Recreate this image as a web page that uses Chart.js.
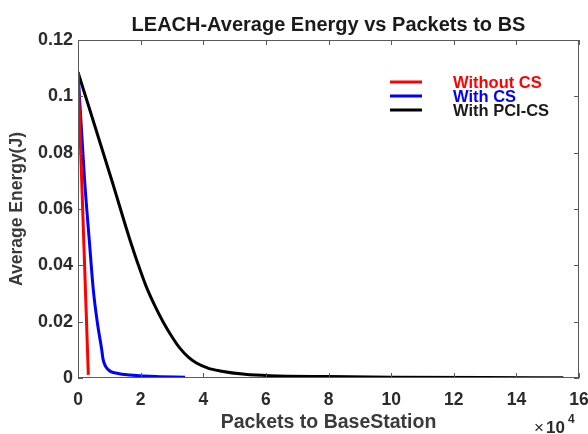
<!DOCTYPE html>
<html>
<head>
<meta charset="utf-8">
<script src="https://cdn.jsdelivr.net/npm/chart.js@4/dist/chart.umd.min.js"></script>
<style>
  html, body { margin: 0; padding: 0; background: #fff; }
  #wrap { width: 588px; height: 434px; }
</style>
</head>
<body>
<div id="wrap"><canvas id="chart" width="588" height="434"></canvas></div>
<script>
// ── data ──
const seriesNames = ['Without CS', 'With CS', 'With PCI-CS'];
const seriesColors = ['#ff0000', '#0000ff', '#000000'];

const redX = [0, 3300];
const redY = [0.1086, 0.0011];

const blueX = [0, 2100, 3600, 4900, 6200, 7600, 8000, 9600, 12800, 16600, 25000, 34200];
const blueY = [0.1086, 0.0703, 0.049, 0.0312, 0.0195, 0.0099, 0.0067, 0.003, 0.0016, 0.0011, 0.0005, 0.0003];

const blackX = [0, 10760, 16600, 19150, 21700, 24600, 27150, 29700, 32600, 35150, 37700, 41500, 45350, 53300, 61300, 80000, 100000, 130000, 155000];
const blackY = [0.1086, 0.0703, 0.049, 0.0405, 0.0327, 0.0255, 0.02, 0.0152, 0.0105, 0.0075, 0.0054, 0.0035, 0.0025, 0.0013, 0.0008, 0.0005, 0.0003, 0.00015, 0.0001];

const xMax = 160000;
const xStep = 20000;
const yMax = 0.12;
const yStep = 0.02;

const titleText = 'LEACH-Average Energy vs Packets to BS';
const xLabel = 'Packets to BaseStation';
const yLabel = 'Average Energy(J)';

const FONT = '"Liberation Sans", Arial, Helvetica, sans-serif';
const TEXT = '#2b2b2b';

const toPoints = (xs, ys) => xs.map((x, i) => ({ x, y: ys[i] }));

// title, legend, box with inward ticks, exponent
const decorations = {
  id: 'decorations',
  afterDraw(chart) {
    const { ctx, chartArea: a, scales } = chart;
    ctx.save();

    // axes box
    ctx.strokeStyle = '#5a5a5a';
    ctx.lineWidth = 1;
    ctx.strokeRect(a.left + 0.5, a.top + 0.5, a.right - a.left - 1, a.bottom - a.top - 1);

    // inward ticks on all four sides
    ctx.beginPath();
    scales.x.ticks.forEach(t => {
      const px = Math.round(scales.x.getPixelForValue(t.value)) + 0.5;
      ctx.moveTo(px, a.bottom); ctx.lineTo(px, a.bottom - 5);
      ctx.moveTo(px, a.top); ctx.lineTo(px, a.top + 5);
    });
    scales.y.ticks.forEach(t => {
      const py = Math.round(scales.y.getPixelForValue(t.value)) + 0.5;
      ctx.moveTo(a.left, py); ctx.lineTo(a.left + 5, py);
      ctx.moveTo(a.right, py); ctx.lineTo(a.right - 5, py);
    });
    ctx.stroke();

    // title centred over the plot
    ctx.fillStyle = '#1a1a1a';
    ctx.font = 'bold 20px ' + FONT;
    ctx.textAlign = 'center';
    ctx.textBaseline = 'middle';
    ctx.fillText(titleText, (a.left + a.right) / 2, 25);

    // legend
    ctx.textAlign = 'left';
    ctx.font = 'bold 16.5px ' + FONT;
    ctx.lineWidth = 3;
    seriesNames.forEach((name, i) => {
      const y = 82 + i * 14;
      ctx.strokeStyle = seriesColors[i];
      ctx.beginPath();
      ctx.moveTo(390, y); ctx.lineTo(422, y);
      ctx.stroke();
      ctx.fillStyle = i === 2 ? '#1a1a1a' : seriesColors[i];
      ctx.fillText(name, 453, y + 1);
    });

    // x10^4 exponent
    ctx.fillStyle = TEXT;
    ctx.font = '17px ' + FONT;
    ctx.fillText('\u00d7', 534, 428);
    ctx.font = 'bold 17px ' + FONT;
    ctx.fillText('10', 546, 428);
    ctx.font = 'bold 12px ' + FONT;
    ctx.fillText('4', 568, 420);

    ctx.restore();
  },
};

new Chart(document.getElementById('chart'), {
  type: 'line',
  data: {
    datasets: [
      { label: seriesNames[0], data: toPoints(redX, redY), borderColor: seriesColors[0] },
      { label: seriesNames[1], data: toPoints(blueX, blueY), borderColor: seriesColors[1] },
      { label: seriesNames[2], data: toPoints(blackX, blackY), borderColor: seriesColors[2] },
    ].map(ds => ({
      ...ds,
      borderWidth: 3,
      pointRadius: 0,
      fill: false,
      cubicInterpolationMode: 'monotone',
    })),
  },
  options: {
    responsive: false,
    animation: false,
    devicePixelRatio: 1,
    layout: { padding: { top: 40, right: 9, left: 0, bottom: 0 } },
    plugins: {
      legend: { display: false },
      title: { display: false },
      tooltip: { enabled: false },
    },
    scales: {
      x: {
        type: 'linear',
        min: 0,
        max: xMax,
        afterFit: scale => {
          scale.height = 56;
          scale.paddingLeft = 0;
          scale.paddingRight = 0;
        },
        grid: { display: false, drawTicks: false },
        border: { display: false },
        ticks: {
          stepSize: xStep,
          padding: 12,
          color: TEXT,
          font: { family: FONT, size: 17.5, weight: 'bold' },
          maxRotation: 0,
          callback: v => String(v / 10000),
        },
        title: {
          display: true,
          text: xLabel,
          color: '#3a3a3a',
          font: { family: FONT, size: 19.5, weight: 'bold' },
          padding: 0,
        },
      },
      y: {
        min: 0,
        max: yMax,
        afterFit: scale => {
          scale.width = 78;
          scale.paddingTop = 0;
          scale.paddingBottom = 0;
        },
        grid: { display: false, drawTicks: false },
        border: { display: false },
        ticks: {
          stepSize: yStep,
          padding: 5,
          color: TEXT,
          font: { family: FONT, size: 18, weight: 'bold' },
          callback: v => String(parseFloat(v.toFixed(2))),
        },
        title: {
          display: true,
          text: yLabel,
          color: '#3a3a3a',
          font: { family: FONT, size: 17.5, weight: 'bold' },
          padding: { top: 7, bottom: 0 },
        },
      },
    },
  },
  plugins: [decorations],
});
</script>
</body>
</html>
